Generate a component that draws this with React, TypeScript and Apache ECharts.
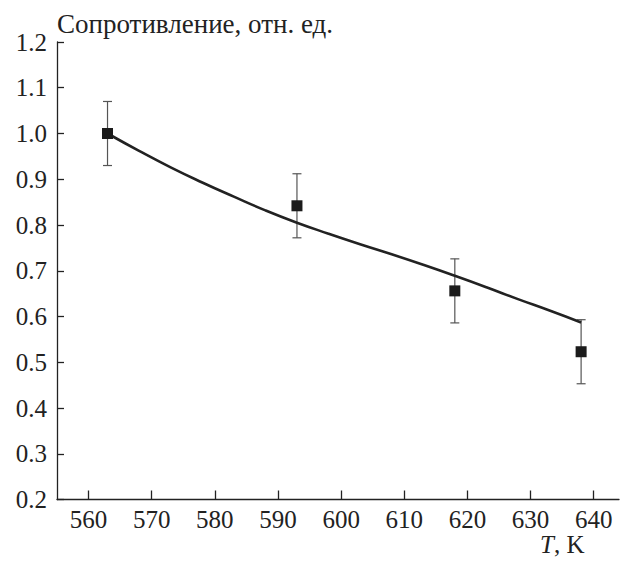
import React, { useEffect, useRef } from "react";
import * as echarts from "echarts";

const pointT = [563, 593, 618, 638];
const pointR = [1.0, 0.842, 0.656, 0.523];
const pointErr = [0.07, 0.07, 0.07, 0.07];

const curveT = [563, 568, 573, 578, 583, 588, 593, 598, 603, 608, 613, 618, 623, 628, 633, 638];
const curveR = [1.0, 0.962, 0.926, 0.893, 0.862, 0.832, 0.805, 0.781, 0.758, 0.736, 0.713, 0.689, 0.664, 0.638, 0.613, 0.587];

const xTicks = [560, 570, 580, 590, 600, 610, 620, 630, 640];

const yTitle = "Сопротивление, отн. ед.";
const xTitleItalic = "T";
const xTitleRest = ", K";

const FONT = "Liberation Serif";

export default function App() {
  const ref = useRef<HTMLDivElement>(null);
  useEffect(() => {
    if (!ref.current) return;
    const chart = echarts.init(ref.current, undefined, { renderer: "svg" });
    const errData = pointT.map((t, i) => [t, pointR[i] - pointErr[i], pointR[i] + pointErr[i]]);
    chart.setOption({
      animation: false,
      backgroundColor: "#ffffff",
      textStyle: { fontFamily: FONT },
      grid: { left: 57, top: 42, width: 562, height: 457.5, containLabel: false },
      xAxis: {
        type: "value",
        min: 555,
        max: 644,
        interval: 5,
        axisLine: { show: true, lineStyle: { color: "#222", width: 1.3 } },
        axisTick: {
          show: true,
          inside: true,
          length: 9,
          lineStyle: { color: "#222", width: 1.3 },
          customValues: xTicks,
        },
        axisLabel: {
          fontFamily: FONT,
          fontSize: 25,
          color: "#222",
          margin: 7,
          customValues: xTicks,
        },
        splitLine: { show: false },
      },
      yAxis: {
        type: "value",
        min: 0.2,
        max: 1.2,
        interval: 0.1,
        axisLine: { show: true, lineStyle: { color: "#222", width: 1.3 } },
        axisTick: { show: true, inside: true, length: 7, lineStyle: { color: "#222", width: 1.3 } },
        axisLabel: {
          fontFamily: FONT,
          fontSize: 25,
          color: "#222",
          margin: 10,
          formatter: (v: number) => v.toFixed(1),
        },
        splitLine: { show: false },
      },
      graphic: [
        {
          type: "text",
          left: 57,
          top: 10,
          style: { text: yTitle, fontFamily: FONT, fontSize: 27, fill: "#222" },
        },
        {
          type: "text",
          left: 540,
          top: 532,
          style: {
            text: `{i|${xTitleItalic}}{r|${xTitleRest}}`,
            rich: {
              i: { fontFamily: FONT, fontSize: 25, fontStyle: "italic", fill: "#222" },
              r: { fontFamily: FONT, fontSize: 25, fill: "#222" },
            },
          },
        },
      ],
      series: [
        {
          type: "custom",
          z: 1,
          data: errData,
          renderItem: (params: any, api: any) => {
            const x = api.value(0);
            const lo = api.coord([x, api.value(1)]);
            const hi = api.coord([x, api.value(2)]);
            const hw = 4.5;
            const st = { stroke: "#555", lineWidth: 1.2 };
            return {
              type: "group",
              children: [
                { type: "line", shape: { x1: lo[0], y1: lo[1], x2: hi[0], y2: hi[1] }, style: st },
                { type: "line", shape: { x1: lo[0] - hw, y1: lo[1], x2: lo[0] + hw, y2: lo[1] }, style: st },
                { type: "line", shape: { x1: hi[0] - hw, y1: hi[1], x2: hi[0] + hw, y2: hi[1] }, style: st },
              ],
            };
          },
        },
        {
          type: "line",
          z: 2,
          data: curveT.map((t, i) => [t, curveR[i]]),
          smooth: 0.5,
          showSymbol: false,
          lineStyle: { color: "#222", width: 2.6 },
        },
        {
          type: "scatter",
          z: 3,
          data: pointT.map((t, i) => [t, pointR[i]]),
          symbol: "rect",
          symbolSize: 11,
          itemStyle: { color: "#1b1b1b", opacity: 1 },
        },
      ],
    });
    return () => chart.dispose();
  }, []);
  return (
    <div
      ref={ref}
      style={{ position: "absolute", left: 0, top: 0, width: 621, height: 561, background: "#fff" }}
    />
  );
}
